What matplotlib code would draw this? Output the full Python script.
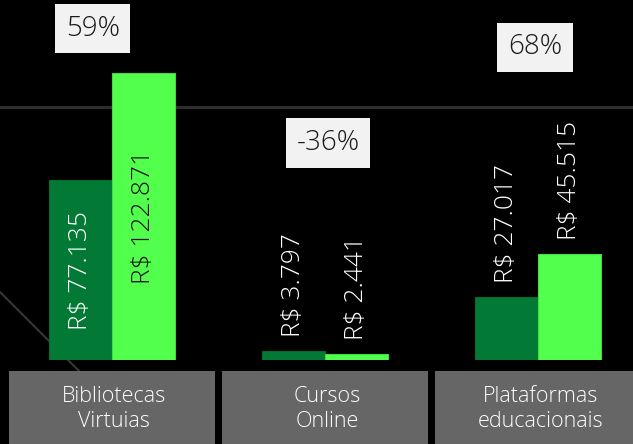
import matplotlib
matplotlib.use("Agg")
import matplotlib.pyplot as plt
from matplotlib.patches import Rectangle
from matplotlib.lines import Line2D
import matplotlib.transforms as mtransforms
import numpy as np

categories = ["Bibliotecas\nVirtuias", "Cursos\nOnline", "Plataformas\neducacionais"]
antes = [77135, 3797, 27017]
depois = [122871, 2441, 45515]
variacao = ["59%", "-36%", "68%"]

# where the % boxes sit (x in category units, y in value units)
pct_pos = [(-0.09, 142000), (1.014, 93000), (1.986, 134000)]

def brl(v):
    return "R$ " + f"{v:,}".replace(",", ".")

plt.rcParams['font.family'] = ['Open Sans', 'DejaVu Sans']

fig = plt.figure(figsize=(6.33, 4.44), dpi=100, facecolor='black')
ax = fig.add_axes([0, 84 / 444, 1, 350 / 444])
ax.set_facecolor('black')
ax.set_xlim(-0.526, 2.446)
ax.set_ylim(0, 150000)
ax.axis('off')

dark = '#027a35'
bright = '#52ff4c'
w = 0.296
x = np.arange(len(categories))

ax.axhline(108400, color='#2e2e2e', lw=2.2, zorder=0)
fig.add_artist(Line2D([0, 79 / 633], [1 - 292 / 444, 1 - 371 / 444],
                      transform=fig.transFigure, color='#3a3a3a', lw=1.4, zorder=-1))

b1 = ax.bar(x - w / 2, antes, w, color=dark, edgecolor='#036b30', lw=0.8, zorder=2)
b2 = ax.bar(x + w / 2, depois, w, color=bright, edgecolor='#45d942', lw=0.8, zorder=2)

for bars, vals, inside_col in [(b1, antes, 'white'), (b2, depois, '#111111')]:
    for rect, v in zip(bars, vals):
        cx = rect.get_x() + rect.get_width() / 2
        if v > 60000:
            ax.text(cx, v / 2, brl(v), rotation=90, ha='center', va='center',
                    color=inside_col, fontsize=19, fontweight='light', zorder=3)
        else:
            ax.annotate(brl(v), (cx, v), xytext=(0, 10), textcoords='offset points',
                        rotation=90, ha='center', va='bottom', color='white',
                        fontsize=19, fontweight='light', zorder=3)

trans = mtransforms.blended_transform_factory(ax.transData, ax.transAxes)
for i, cat in enumerate(categories):
    ax.add_patch(Rectangle((i - 0.485, -0.24), 0.97, 0.2086, transform=trans,
                           facecolor='#666666', edgecolor='none', clip_on=False))
    ax.text(i + 0.01, -0.14, cat, transform=trans, ha='center', va='center',
            color='white', fontsize=15.5, fontweight='light', linespacing=1.2)

for (px, py), t in zip(pct_pos, variacao):
    ax.text(px, py, t, ha='center', va='center', color='#1a1a1a', fontsize=20,
            fontweight='light',
            bbox=dict(boxstyle='square,pad=0.38', fc='#f2f2f2', ec='none'), zorder=4)

fig.savefig('out.png', dpi=100, facecolor='black')
